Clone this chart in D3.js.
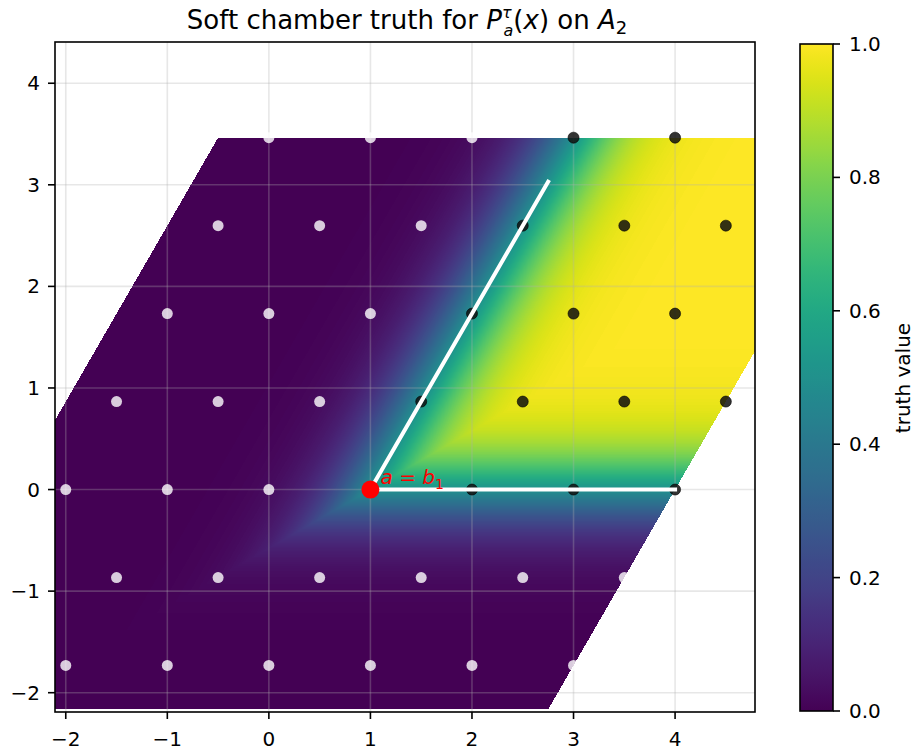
<!DOCTYPE html>
<html lang="en">

<head>
    <meta charset="UTF-8">
    <title>Soft chamber truth</title>
    <script src="https://d3js.org/d3.v7.min.js"></script>
    <style>
        body {
            margin: 0;
            background: #ffffff;
        }

        text {
            font-family: "DejaVu Sans", sans-serif;
        }
    </style>
</head>

<body>
    <svg class="chart" width="915" height="752"></svg>

    <script>
        // lattice A2, basis b1 = (1, 0), b2 = (1/2, sqrt3/2)
        const sIndex = [-2, -1, 0, 1, 2, 3, 4];
        const tIndex = [-2, -1, 0, 1, 2, 3, 4];
        const regionS = [-2.5, 4];
        const regionT = [-2.5, 4];
        const apex = [1, 0];
        const wallLengths = [3, 3.5];
        const tau = 0.25;
        const xTicks = [-2, -1, 0, 1, 2, 3, 4];
        const yTicks = [-2, -1, 0, 1, 2, 3, 4];
        const cbTicks = [0.0, 0.2, 0.4, 0.6, 0.8, 1.0];

        const h = Math.sqrt(3) / 2;
        const toXY = (s, t) => [s + t / 2, t * h];

        function truth(x, y) {
            const d1 = y - apex[1];
            const d2 = h * (x - apex[0]) - 0.5 * (y - apex[1]);
            return 1 / (1 + Math.exp(-Math.min(d1, d2) / tau));
        }

        const pLeft = 55, pRight = 755, pTop = 42, pBottom = 712;

        const x = d3.scaleLinear().domain([-2.106, 4.787]).range([pLeft, pRight]);
        const y = d3.scaleLinear().domain([-2.19, 4.406]).range([pBottom, pTop]);

        const svg = d3.select('.chart');
        const defs = svg.append('defs');

        // heatmap, drawn pixel by pixel into a canvas
        const w = pRight - pLeft, hgt = pBottom - pTop;
        const canvas = document.createElement('canvas');
        canvas.width = w;
        canvas.height = hgt;
        const ctx = canvas.getContext('2d');
        const img = ctx.createImageData(w, hgt);
        for (let j = 0; j < hgt; j++) {
            for (let i = 0; i < w; i++) {
                const xv = x.invert(pLeft + i + 0.5);
                const yv = y.invert(pTop + j + 0.5);
                const t = yv / h;
                const s = xv - t / 2;
                if (s < regionS[0] || s > regionS[1] || t < regionT[0] || t > regionT[1]) continue;
                const c = d3.rgb(d3.interpolateViridis(truth(xv, yv)));
                const k = (j * w + i) * 4;
                img.data[k] = c.r;
                img.data[k + 1] = c.g;
                img.data[k + 2] = c.b;
                img.data[k + 3] = 255;
            }
        }
        ctx.putImageData(img, 0, 0);

        defs.append('clipPath')
            .attr('id', 'plot-clip')
            .append('rect')
            .attr('x', pLeft).attr('y', pTop)
            .attr('width', w).attr('height', hgt);

        svg.append('image')
            .attr('x', pLeft).attr('y', pTop)
            .attr('width', w).attr('height', hgt)
            .attr('href', canvas.toDataURL());

        const plot = svg.append('g').attr('clip-path', 'url(#plot-clip)');

        // grid
        plot.selectAll('.gx').data(xTicks).enter().append('line')
            .attr('x1', d => x(d)).attr('x2', d => x(d))
            .attr('y1', pTop).attr('y2', pBottom)
            .attr('stroke', '#b0b0b0').attr('stroke-opacity', 0.3).attr('stroke-width', 1.6);
        plot.selectAll('.gy').data(yTicks).enter().append('line')
            .attr('y1', d => y(d)).attr('y2', d => y(d))
            .attr('x1', pLeft).attr('x2', pRight)
            .attr('stroke', '#b0b0b0').attr('stroke-opacity', 0.3).attr('stroke-width', 1.6);

        // lattice points
        const points = [];
        tIndex.forEach(t => sIndex.forEach(s => {
            if (s === apex[0] && t === apex[1]) return;
            const inside = s >= apex[0] && t >= apex[1];
            points.push({ p: toXY(s, t), inside: inside });
        }));

        // chamber walls
        const wallEnds = [toXY(apex[0] + wallLengths[0], apex[1]), toXY(apex[0], apex[1] + wallLengths[1])];
        const a = toXY(apex[0], apex[1]);

        plot.selectAll('.pt').data(points).enter().append('circle')
            .attr('cx', d => x(d.p[0]))
            .attr('cy', d => y(d.p[1]))
            .attr('r', 5.5)
            .attr('fill', d => d.inside ? '#111111' : '#ffffff')
            .attr('fill-opacity', d => d.inside ? 0.85 : 0.8)
            .attr('stroke', d => d.inside ? '#000000' : 'none')
            .attr('stroke-opacity', 0.6)
            .attr('stroke-width', 1);

        plot.selectAll('.wall').data(wallEnds).enter().append('line')
            .attr('x1', x(a[0])).attr('y1', y(a[1]))
            .attr('x2', d => x(d[0])).attr('y2', d => y(d[1]))
            .attr('stroke', '#ffffff').attr('stroke-width', 4)
            .attr('stroke-linecap', 'square');

        plot.append('circle')
            .attr('cx', x(a[0])).attr('cy', y(a[1]))
            .attr('r', 9).attr('fill', '#ff0000');

        const lab = plot.append('text')
            .attr('x', x(a[0] + 0.1)).attr('y', y(a[1] + 0.05))
            .attr('fill', '#ff0000').attr('font-size', 20);
        lab.append('tspan').attr('font-style', 'italic').text('a');
        lab.append('tspan').text(' = ');
        lab.append('tspan').attr('font-style', 'italic').text('b');
        lab.append('tspan').attr('font-size', 14).attr('dy', 5).text('1');

        // axes
        svg.append('rect')
            .attr('x', pLeft).attr('y', pTop)
            .attr('width', w).attr('height', hgt)
            .attr('fill', 'none').attr('stroke', '#000').attr('stroke-width', 1.6);

        const xAxis = svg.append('g');
        xAxis.selectAll('line').data(xTicks).enter().append('line')
            .attr('x1', d => x(d)).attr('x2', d => x(d))
            .attr('y1', pBottom).attr('y2', pBottom + 7)
            .attr('stroke', '#000').attr('stroke-width', 1.6);
        xAxis.selectAll('text').data(xTicks).enter().append('text')
            .attr('x', d => x(d)).attr('y', pBottom + 34)
            .attr('text-anchor', 'middle').attr('font-size', 20)
            .text(d => d < 0 ? '\u2212' + Math.abs(d) : d);

        const yAxis = svg.append('g');
        yAxis.selectAll('line').data(yTicks).enter().append('line')
            .attr('y1', d => y(d)).attr('y2', d => y(d))
            .attr('x1', pLeft - 7).attr('x2', pLeft)
            .attr('stroke', '#000').attr('stroke-width', 1.6);
        yAxis.selectAll('text').data(yTicks).enter().append('text')
            .attr('x', pLeft - 15).attr('y', d => y(d) + 7)
            .attr('text-anchor', 'end').attr('font-size', 20)
            .text(d => d < 0 ? '\u2212' + Math.abs(d) : d);

        // title, with P_a^tau stacked
        const title = svg.append('text')
            .attr('x', (pLeft + pRight) / 2 + 2).attr('y', 29)
            .attr('text-anchor', 'middle').attr('font-size', 26);
        title.append('tspan').text('Soft chamber truth for ');
        title.append('tspan').attr('font-style', 'italic').text('P');
        title.append('tspan').attr('font-style', 'italic').attr('font-size', 16).attr('dy', -11).text('\u03c4');
        title.append('tspan').attr('font-style', 'italic').attr('font-size', 16).attr('dx', -8).attr('dy', 18).text('a');
        title.append('tspan').attr('dy', -7).text('(');
        title.append('tspan').attr('font-style', 'italic').text('x');
        title.append('tspan').text(') on ');
        title.append('tspan').attr('font-style', 'italic').text('A');
        title.append('tspan').attr('font-size', 18).attr('dy', 5).text('2');

        // colorbar
        const cbLeft = 800, cbRight = 833, cbTop = 44, cbBottom = 711;
        const cb = d3.scaleLinear().domain([0, 1]).range([cbBottom, cbTop]);
        const grad = defs.append('linearGradient')
            .attr('id', 'viridis').attr('x1', 0).attr('y1', 1).attr('x2', 0).attr('y2', 0);
        d3.range(0, 1.0001, 0.02).forEach(v => {
            grad.append('stop').attr('offset', v).attr('stop-color', d3.interpolateViridis(v));
        });
        svg.append('rect')
            .attr('x', cbLeft).attr('y', cbTop)
            .attr('width', cbRight - cbLeft).attr('height', cbBottom - cbTop)
            .attr('fill', 'url(#viridis)')
            .attr('stroke', '#000').attr('stroke-width', 1.6);
        svg.selectAll('.cbt').data(cbTicks).enter().append('line')
            .attr('x1', cbRight).attr('x2', cbRight + 7)
            .attr('y1', d => cb(d)).attr('y2', d => cb(d))
            .attr('stroke', '#000').attr('stroke-width', 1.6);
        svg.selectAll('.cbl').data(cbTicks).enter().append('text')
            .attr('x', cbRight + 16).attr('y', d => cb(d) + 7)
            .attr('font-size', 20)
            .text(d => d.toFixed(1));
        svg.append('text')
            .attr('transform', 'translate(910,378) rotate(-90)')
            .attr('text-anchor', 'middle').attr('font-size', 20)
            .text('truth value');
    </script>
</body>

</html>
